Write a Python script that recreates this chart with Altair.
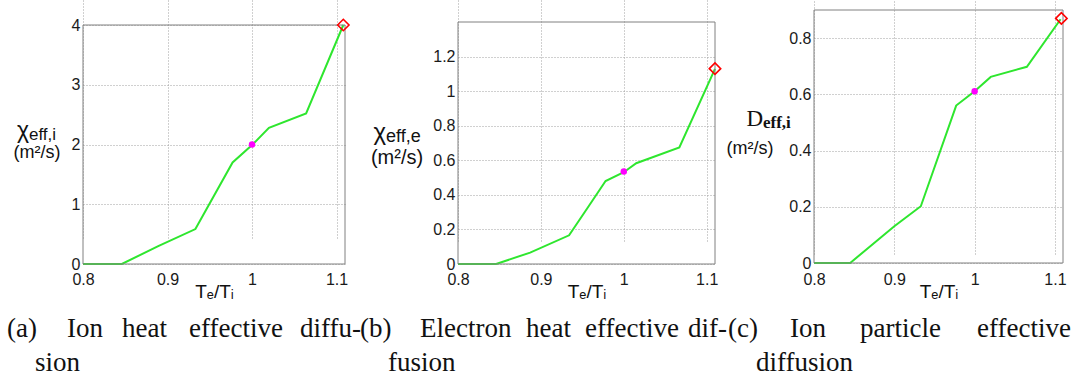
import altair as alt
import pandas as pd

# ---------------- data ----------------
te_ti_a = [0.8, 0.846, 0.889, 0.933, 0.977, 1.0, 1.02, 1.064, 1.108]
chi_i = [0.0, 0.0, 0.30, 0.585, 1.70, 1.99, 2.28, 2.52, 4.0]

te_ti_b = [0.8, 0.846, 0.887, 0.934, 0.957, 0.978, 1.0, 1.015, 1.067, 1.11]
chi_e = [0.0, 0.0, 0.066, 0.166, 0.33, 0.48, 0.531, 0.583, 0.674, 1.129]

te_ti_c = [0.8, 0.845, 0.9, 0.933, 0.977, 1.0, 1.02, 1.065, 1.107]
d_i = [0.0, 0.0, 0.131, 0.202, 0.56, 0.611, 0.662, 0.698, 0.867]

ref_x = [1.0, 1.0, 1.0]          # magenta reference points (Te/Ti = 1)
ref_y = [2.0, 0.535, 0.611]
end_x = [1.108, 1.11, 1.108]     # red diamonds
end_y = [4.0, 1.13, 0.87]

x_ticks = [0.8, 0.9, 1.0, 1.1]
y_ticks_a = [0, 1, 2, 3, 4]
y_ticks_b = [0, 0.2, 0.4, 0.6, 0.8, 1.0, 1.2]
y_ticks_c = [0, 0.2, 0.4, 0.6, 0.8]
y_max = [4.0, 1.4, 0.9]
x_domain = [0.8, 1.11]

cap_a_1 = ["(a)", "Ion", "heat", "effective", "diffu-"]
cap_a_2 = ["sion"]
cap_b_1 = ["(b)", "Electron", "heat", "effective", "dif-"]
cap_b_2 = ["fusion"]
cap_c_1 = ["(c)", "Ion", "particle", "effective"]
cap_c_2 = ["diffusion"]

# ---------------- styles ----------------
GREEN = "#2ee62e"
MAGENTA = "#ff00ff"
RED = "#ff0000"
FRAME = "#808080"
SANS = "Liberation Sans, Arial, DejaVu Sans"
SERIF = "Liberation Serif, DejaVu Serif"
H = 264


def txt(s, x, y, size, font, align="left", weight="normal"):
    return alt.Chart(alt.Data(values=[{}])).mark_text(
        text=s, align=align, baseline="alphabetic", font=font,
        fontSize=size, fontWeight=weight, color="#111111"
    ).encode(x=alt.value(x), y=alt.value(y))


def panel(xs, ys, rx, ry, ex, ey, ymax, yticks, view_w, xrange, yrange,
          extra_layers):
    xsc = alt.Scale(domain=x_domain, range=xrange, nice=False, zero=False)
    ysc = alt.Scale(domain=[0, ymax], range=yrange, nice=False, zero=False)
    xaxis = alt.Axis(values=x_ticks, format="~g", title="Tₑ/Tᵢ",
                     labelFlush=False, labelOverlap=False, labelPadding=7,
                     titleFont=SANS, titleFontSize=19, titleFontWeight="normal",
                     titleColor="#111111", titleY=33, titleBaseline="alphabetic")
    yaxis = alt.Axis(values=yticks, format="~g", title="",
                     offset=-xrange[0], labelPadding=3, labelOverlap=False)

    X = alt.X("x:Q", scale=xsc, axis=xaxis)
    Y = alt.Y("y:Q", scale=ysc, axis=yaxis)

    frame = alt.Chart(pd.DataFrame({"x": [x_domain[0]], "x2": [x_domain[1]],
                                    "y": [0.0], "y2": [ymax]})).mark_rect(
        filled=False, stroke=FRAME, strokeWidth=1
    ).encode(x=X, x2="x2:Q", y=Y, y2="y2:Q")

    line = alt.Chart(pd.DataFrame({"x": xs, "y": ys})).mark_line(
        color=GREEN, strokeWidth=2
    ).encode(x=X, y=Y)

    dot = alt.Chart(pd.DataFrame({"x": [rx], "y": [ry]})).mark_point(
        shape="circle", filled=True, color=MAGENTA, size=42, opacity=1
    ).encode(x=X, y=Y)

    dia = alt.Chart(pd.DataFrame({"x": [ex], "y": [ey]})).mark_point(
        shape="diamond", filled=False, color=RED, size=130, strokeWidth=1.6,
        opacity=1
    ).encode(x=X, y=Y)

    return alt.layer(line, frame, dot, dia, *extra_layers).properties(
        width=view_w, height=H)


CAP_Y1 = 337
CAP_Y2 = 371
CAP_SIZE = 27

# panel a (view starts at x=0)
a_extra = [
    txt("χ", 29, 138, 23, SANS, align="right"),
    txt("eff,i", 29, 140, 17, SANS),
    txt("(m²/s)", 37, 158, 18, SANS, align="center"),
]
for w, px in zip(cap_a_1, [7, 67, 122, 189, 300]):
    a_extra.append(txt(w, px, CAP_Y1, CAP_SIZE, SERIF))
a_extra.append(txt(cap_a_2[0], 35, CAP_Y2, CAP_SIZE, SERIF))

# panel b (view starts at x=357)
OB = 357
b_extra = [
    txt("χ", 386 - OB, 140, 24, SANS, align="right"),
    txt("eff,e", 386 - OB, 142, 18, SANS),
    txt("(m²/s)", 397 - OB, 164, 20, SANS, align="center"),
]
for w, px in zip(cap_b_1, [360, 420, 526, 585, 688]):
    b_extra.append(txt(w, px - OB, CAP_Y1, CAP_SIZE, SERIF))
b_extra.append(txt(cap_b_2[0], 388 - OB, CAP_Y2, CAP_SIZE, SERIF))

# panel c (view starts at x=716)
OC = 716
c_extra = [
    txt("D", 763 - OC, 126, 23, SERIF, align="right"),
    txt("eff,i", 763 - OC, 128, 17, SERIF, weight="bold"),
    txt("(m²/s)", 750 - OC, 154, 18, SANS, align="center"),
]
for w, px in zip(cap_c_1, [728, 790, 860, 977]):
    c_extra.append(txt(w, px - OC, CAP_Y1, CAP_SIZE, SERIF))
c_extra.append(txt(cap_c_2[0], 756 - OC, CAP_Y2, CAP_SIZE, SERIF))

pa = panel(te_ti_a, chi_i, ref_x[0], ref_y[0], end_x[0], end_y[0], y_max[0],
           y_ticks_a, 357, [83, 345], [264, 25], a_extra)
pb = panel(te_ti_b, chi_e, ref_x[1], ref_y[1], end_x[1], end_y[1], y_max[1],
           y_ticks_b, 359, [101, 358], [264, 22], b_extra)
pc = panel(te_ti_c, d_i, ref_x[2], ref_y[2], end_x[2], end_y[2], y_max[2],
           y_ticks_c, 357, [98, 347], [263, 10], c_extra)

chart = alt.hconcat(pa, pb, pc, spacing=0, bounds="flush").properties(
    padding=0, background="white"
).configure_view(strokeWidth=0).configure_axis(
    labelFont=SANS, labelFontSize=16, labelColor="#1a1a1a",
    grid=True, gridColor="#a0a0a0", gridDash=[1, 2], gridWidth=1,
    domain=False, ticks=False, tickSize=0
)

chart.save("out.html", embed_options={"renderer": "svg", "actions": False})
